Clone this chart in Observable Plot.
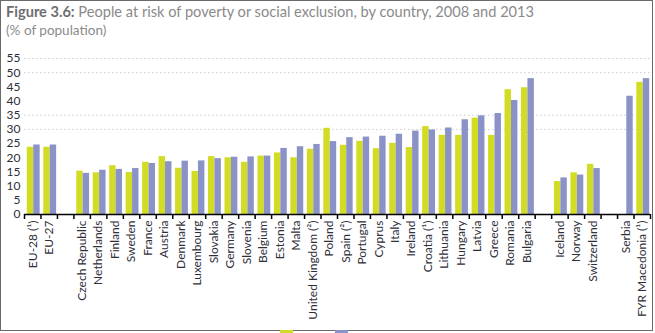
<!DOCTYPE html>
<html>
<head>
<meta charset="utf-8">
<script src="https://cdn.jsdelivr.net/npm/d3@7"></script>
<script src="https://cdn.jsdelivr.net/npm/@observablehq/plot@0.6"></script>
<style>
  html, body { margin: 0; padding: 0; background: #fff; overflow: hidden; }
  body { width: 655px; height: 333px; position: relative; font-family: Lato, "Open Sans", sans-serif; }
  #frame { position: absolute; left: 0; top: 0; width: 651px; height: 329px; border: 1px solid #6a6a6a; }
  #title { position: absolute; left: 6px; top: 2px; font-size: 15px; color: #8a8a8a; white-space: nowrap; transform-origin: 0 0; }
  #title b { color: #6d6e71; font-weight: 700; }
  #subtitle { position: absolute; left: 6px; top: 22px; font-size: 13.5px; color: #8a8a8a; white-space: nowrap; }
  #chart { position: absolute; left: 0; top: 40px; }
  #legend { position: absolute; top: 330px; left: 0; width: 655px; height: 3px; overflow: hidden; }
  .sw { position: absolute; top: 0; width: 13px; height: 10px; }
</style>
</head>
<body>
<div id="frame"></div>
<div id="title"><b>Figure 3.6:</b> People at risk of poverty or social exclusion, by country, 2008 and 2013</div>
<div id="subtitle">(% of population)</div>
<div id="chart"></div>
<div id="legend"></div>
<script>
// Slots along the x axis (empty strings are gaps between groups)
const slots = ["EU-28 (¹)","EU-27","","Czech Republic","Netherlands","Finland","Sweden","France","Austria","Denmark","Luxembourg","Slovakia","Germany","Slovenia","Belgium","Estonia","Malta","United Kingdom (²)","Poland","Spain (²)","Portugal","Cyprus","Italy","Ireland","Croatia (¹)","Lithuania","Hungary","Latvia","Greece","Romania","Bulgaria","","Iceland","Norway","Switzerland","","Serbia","FYR Macedonia (¹)"];
const v2008 = [23.7,23.7,null,15.3,14.7,17.2,14.8,18.4,20.4,16.3,15.2,20.4,20.0,18.4,20.6,21.7,20.0,23.0,30.4,24.4,25.8,23.2,25.1,23.6,31.0,27.9,27.9,34.0,27.9,44.0,44.7,null,11.6,14.7,17.7,null,null,46.6];
const v2013 = [24.5,24.5,null,14.5,15.6,15.9,16.2,18.0,18.6,18.8,18.9,19.7,20.2,20.3,20.6,23.3,23.9,24.7,25.7,27.1,27.3,27.6,28.3,29.4,29.8,30.5,33.4,34.8,35.6,40.2,47.9,null,12.9,13.9,16.2,null,41.7,47.9];
const seriesNames = ["2008","2013"];
const colors = ["#d3dc24","#8b92c8"];
const yTicks = [0,5,10,15,20,25,30,35,40,45,50,55];
const gridValues = [30,35,50,55];

const rows = slots.map((name, i) => ({i, name, a: v2008[i], b: v2013[i]}));

const chart = Plot.plot({
  width: 655,
  height: 290,
  marginLeft: 24,
  marginRight: 5,
  marginTop: 18,
  marginBottom: 116,
  style: {fontFamily: "Lato, sans-serif", fontSize: "12px", color: "#2e2e38", background: "transparent"},
  x: {type: "linear", domain: [0, slots.length]},
  y: {domain: [0, 55]},
  marks: [
    Plot.gridY(gridValues, {stroke: "#b8b8b8", strokeOpacity: 0.7, strokeDasharray: "1.5,2.5"}),
    Plot.rectY(rows.filter(d => d.a != null), {x1: d => d.i + 0.17, x2: d => d.i + 0.56, y1: 0, y2: "a", fill: colors[0]}),
    Plot.rectY(rows.filter(d => d.b != null), {x1: d => d.i + 0.56, x2: d => d.i + 0.95, y1: 0, y2: "b", fill: colors[1]}),
    Plot.ruleY([0], {stroke: "#000", strokeWidth: 1.5}),
    Plot.axisX({ticks: d3.range(slots.length + 1), tickFormat: () => "", tickSize: 5, stroke: "#000", strokeWidth: 1.5, label: null}),
    Plot.axisX({ticks: d3.range(slots.length).map(i => i + 0.5), tickFormat: t => slots[Math.floor(t)], tickSize: 0, tickPadding: 6, tickRotate: -90, fontSize: 12, label: null}),
    Plot.axisY({ticks: yTicks, tickSize: 0, tickPadding: 4, fontSize: 12, label: null})
  ]
});
document.getElementById("chart").appendChild(chart);

// legend swatches (the legend is cut off at the bottom edge, as in the reference)
const legend = document.getElementById("legend");
const legendX = [280, 335];
seriesNames.forEach((s, k) => {
  const sw = document.createElement("div");
  sw.className = "sw"; sw.style.left = legendX[k] + "px"; sw.style.background = colors[k];
  sw.title = s;
  legend.appendChild(sw);
});

// fit title width to reference
const title = document.getElementById("title");
const w = title.getBoundingClientRect().width;
title.style.transform = `scaleX(${528 / w})`;
</script>
</body>
</html>
